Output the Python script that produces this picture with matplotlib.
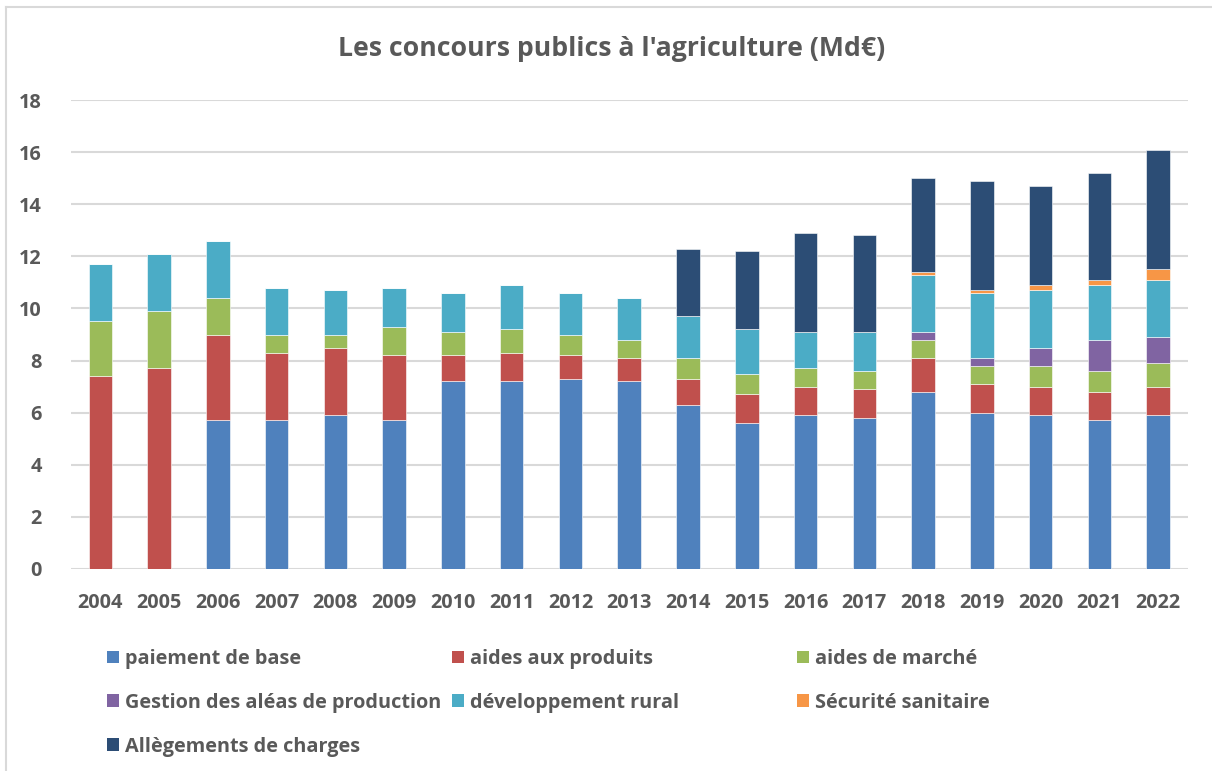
import numpy as np
import matplotlib
matplotlib.use("Agg")
import matplotlib.pyplot as plt
from matplotlib.patches import Patch
from matplotlib.lines import Line2D

plt.rcParams['font.family'] = ['Open Sans', 'DejaVu Sans']

years = [str(y) for y in range(2004, 2023)]

paiement_base = [0, 0, 5.7, 5.7, 5.9, 5.7, 7.2, 7.2, 7.3, 7.2, 6.3, 5.6, 5.9, 5.8, 6.8, 6.0, 5.9, 5.7, 5.9]
aides_produits = [7.4, 7.7, 3.3, 2.6, 2.6, 2.5, 1.0, 1.1, 0.9, 0.9, 1.0, 1.1, 1.1, 1.1, 1.3, 1.1, 1.1, 1.1, 1.1]
aides_marche = [2.1, 2.2, 1.4, 0.7, 0.5, 1.1, 0.9, 0.9, 0.8, 0.7, 0.8, 0.8, 0.7, 0.7, 0.7, 0.7, 0.8, 0.8, 0.9]
gestion_aleas = [0, 0, 0, 0, 0, 0, 0, 0, 0, 0, 0, 0, 0, 0, 0.3, 0.3, 0.7, 1.2, 1.0]
dev_rural = [2.2, 2.2, 2.2, 1.8, 1.7, 1.5, 1.5, 1.7, 1.6, 1.6, 1.6, 1.7, 1.4, 1.5, 2.2, 2.5, 2.2, 2.1, 2.2]
securite_sanitaire = [0, 0, 0, 0, 0, 0, 0, 0, 0, 0, 0, 0, 0, 0, 0.1, 0.1, 0.2, 0.2, 0.4]
allegements = [0, 0, 0, 0, 0, 0, 0, 0, 0, 0, 2.6, 3.0, 3.8, 3.7, 3.6, 4.2, 3.8, 4.1, 4.6]

series_names = ["paiement de base", "aides aux produits", "aides de marché",
                "Gestion des aléas de production", "développement rural",
                "Sécurité sanitaire", "Allègements de charges"]
series_values = [paiement_base, aides_produits, aides_marche, gestion_aleas,
                 dev_rural, securite_sanitaire, allegements]
colors = ["#4F81BD", "#C0504D", "#9BBB59", "#8064A2", "#4BACC6", "#F79646", "#2C4D75"]

text_col = "#595959"
grid_col = "#D9D9D9"

W, H = 1212, 771
fig = plt.figure(figsize=(W / 100, H / 100), dpi=100)
ax = fig.add_axes([71 / W, 1 - 569 / H, 1116.5 / W, 469 / H])

x = np.arange(len(years))
bottom = np.zeros(len(years))
for name, vals, c in zip(series_names, series_values, colors):
    vals = np.array(vals, dtype=float)
    ax.bar(x, vals, width=0.4, bottom=bottom, color=c, edgecolor="white",
           linewidth=0.4, label=name, zorder=3)
    bottom += vals

ax.set_xlim(-0.5, len(years) - 0.5)
ax.set_ylim(0, 18)
ax.set_yticks(range(0, 19, 2))
ax.set_xticks(x)
ax.set_xticklabels(years)
ax.yaxis.grid(True, color=grid_col, linewidth=1.5, zorder=0)
ax.set_axisbelow(True)
for s in ax.spines.values():
    s.set_visible(False)
ax.tick_params(length=0, labelcolor=text_col, labelsize=14.3)
ax.tick_params(axis="y", pad=21)
ax.tick_params(axis="x", pad=17)
for lab in ax.get_xticklabels() + ax.get_yticklabels():
    lab.set_fontweight("bold")

fig.text(612 / W, 1 - 49 / H, "Les concours publics à l'agriculture (Md€)",
         ha="center", va="center", fontsize=19.2, fontweight="bold", color=text_col)

# legend in three columns like Excel (equal column widths)
handles = [Patch(facecolor=c, edgecolor="none") for c in colors]
columns = [[0, 3, 6], [1, 4], [2, 5]]
col_x = [97, 442, 787]
for cx, idx in zip(col_x, columns):
    leg = fig.legend([handles[i] for i in idx], [series_names[i] for i in idx],
                     loc="upper left", bbox_to_anchor=(cx / W, 1 - 639 / H),
                     frameon=False, handlelength=0.6, handleheight=0.6,
                     handletextpad=0.3, labelspacing=1.2, borderpad=0,
                     prop={"size": 14.3, "weight": "bold"})
    for t in leg.get_texts():
        t.set_color(text_col)

# chart frame (top and left edges visible)
fig.add_artist(Line2D([6 / W, 1], [1 - 7 / H, 1 - 7 / H], color=grid_col, linewidth=1.5))
fig.add_artist(Line2D([6 / W, 6 / W], [0, 1 - 7 / H], color=grid_col, linewidth=1.5))

fig.savefig("out.png", dpi=100, facecolor="white")
